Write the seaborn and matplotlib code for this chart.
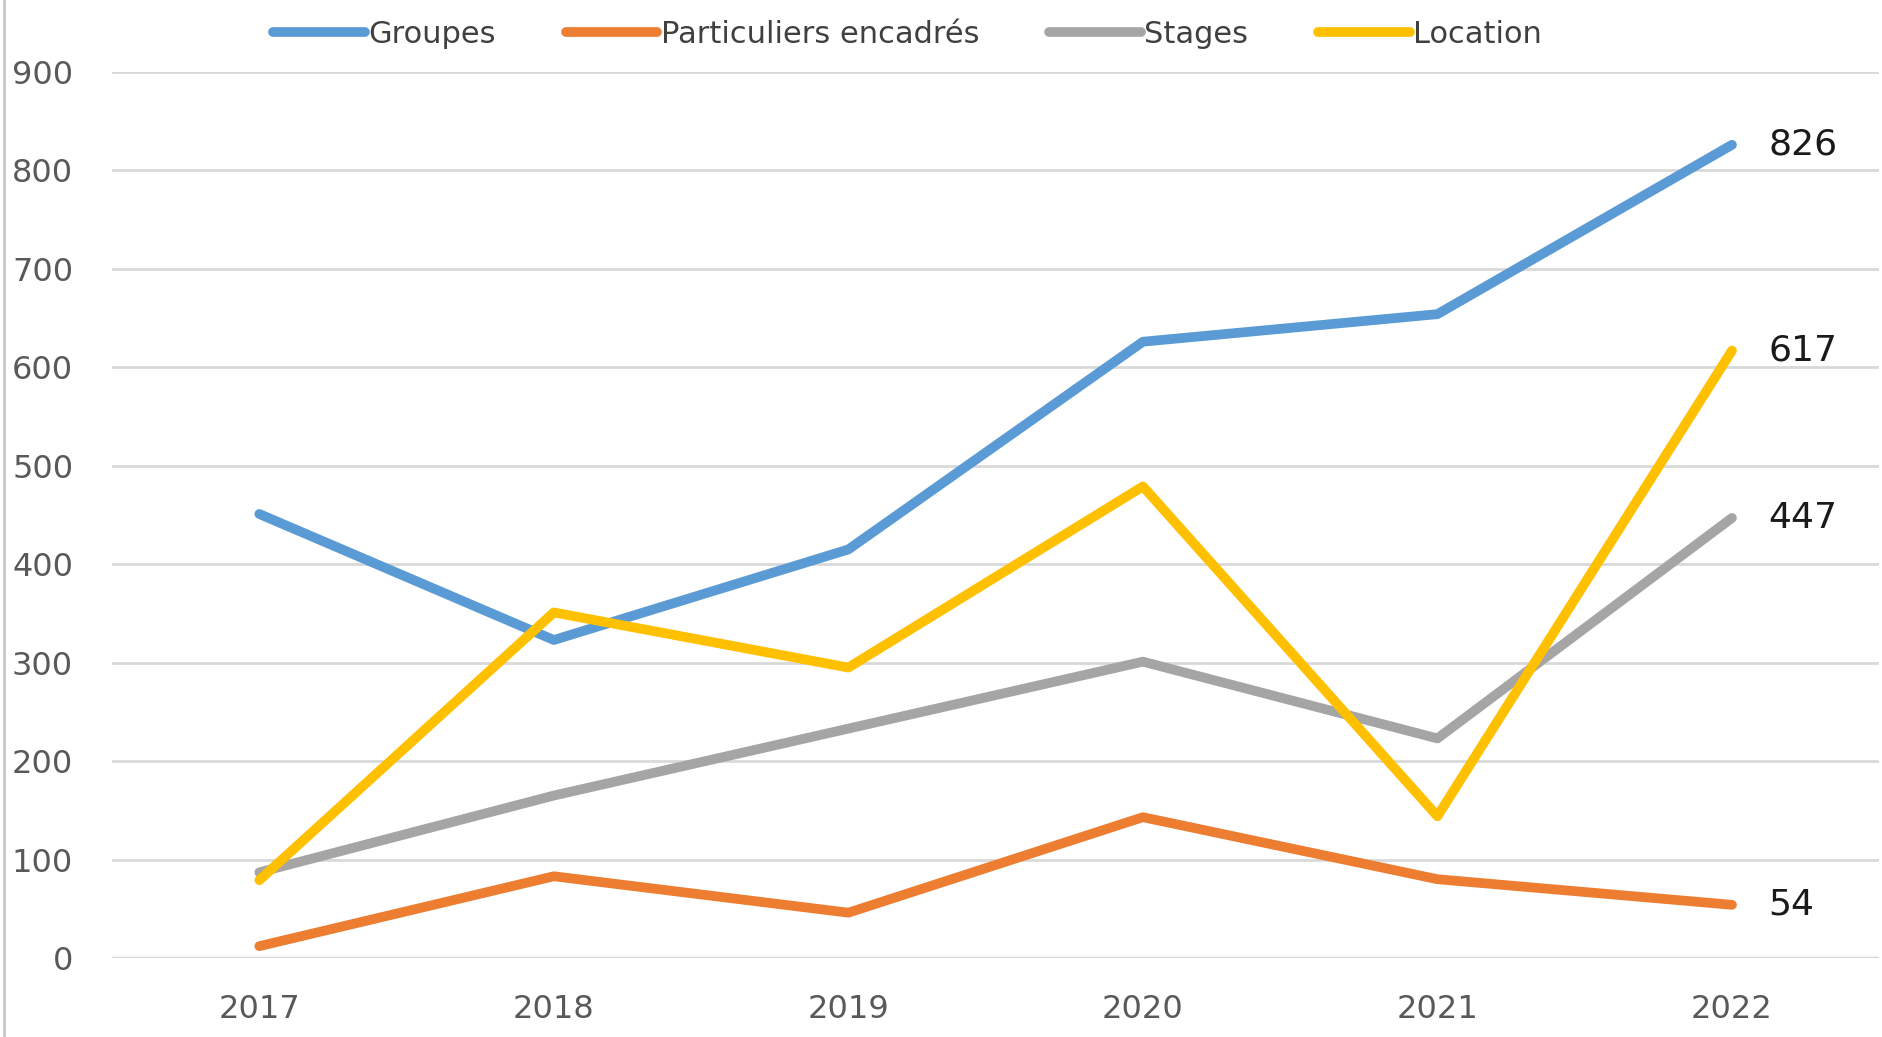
"""Evolution of activity by category, 2017-2022."""

import matplotlib.pyplot as plt
from matplotlib.lines import Line2D
import seaborn as sns
import pandas as pd

# Data
years = ['2017', '2018', '2019', '2020', '2021', '2022']
groupes = [451, 323, 415, 626, 654, 826]
particuliers = [12, 83, 46, 143, 80, 54]
stages = [87, 165, 233, 301, 223, 447]
location = [79, 351, 295, 479, 144, 617]

series_names = ['Groupes', 'Particuliers encadrés', 'Stages', 'Location']
series_values = [groupes, particuliers, stages, location]
colors = ['#5B9BD5', '#ED7D31', '#A5A5A5', '#FFC000']

# Long-form table for seaborn
rows = []
for name, values in zip(series_names, series_values):
    for i, (year, v) in enumerate(zip(years, values)):
        rows.append({'idx': i, 'year': year, 'series': name, 'value': v})
df = pd.DataFrame(rows)

sns.set_theme(style='white')
plt.rcParams['font.family'] = ['DejaVu Sans']

fig = plt.figure(figsize=(18.83, 10.37), dpi=100)
ax = fig.add_axes([0.0595, 0.0762, 0.9385, 0.8544])

sns.lineplot(
    data=df, x='idx', y='value', hue='series',
    hue_order=series_names, palette=colors,
    linewidth=7, legend=False, ax=ax,
    solid_capstyle='round', solid_joinstyle='round'
)

# Axes styling (Excel-like)
ax.set_xlim(-0.5, len(years) - 0.5)
ax.set_ylim(0, 900)
ax.set_yticks(range(0, 901, 100))
ax.set_xticks(range(len(years)))
ax.set_xticklabels(years)
ax.set_xlabel('')
ax.set_ylabel('')
ax.grid(True, axis='y', color='#D9D9D9', linewidth=2)
ax.set_axisbelow(True)
for side in ['top', 'right', 'left', 'bottom']:
    ax.spines[side].set_visible(False)
ax.axhline(0, color='#D0D0D0', linewidth=2.5, zorder=0)
ax.tick_params(axis='y', labelsize=23, colors='#595959', length=0, pad=28)
ax.tick_params(axis='x', labelsize=23, colors='#595959', length=0, pad=26)

# End-of-line value labels
for name, values in zip(series_names, series_values):
    ax.annotate(
        str(values[-1]),
        (len(years) - 1, values[-1]),
        xytext=(26, 0), textcoords='offset points',
        va='center', ha='left', fontsize=26, color='#1a1a1a'
    )

# Legend across the top
handles = [Line2D([0], [0], color=c, linewidth=7, solid_capstyle='round') for c in colors]
fig.legend(
    handles, series_names, loc='center', bbox_to_anchor=(0.482, 0.967),
    ncol=4, frameon=False, fontsize=22, handlelength=3.0, handletextpad=0.1,
    columnspacing=2.3, labelcolor='#404040'
)

# Thin frame line on the left edge of the image
fig.add_artist(Line2D([0.002, 0.002], [0, 1], color='#C8C8C8', linewidth=2, transform=fig.transFigure))

plt.savefig('out.png', dpi=100)
